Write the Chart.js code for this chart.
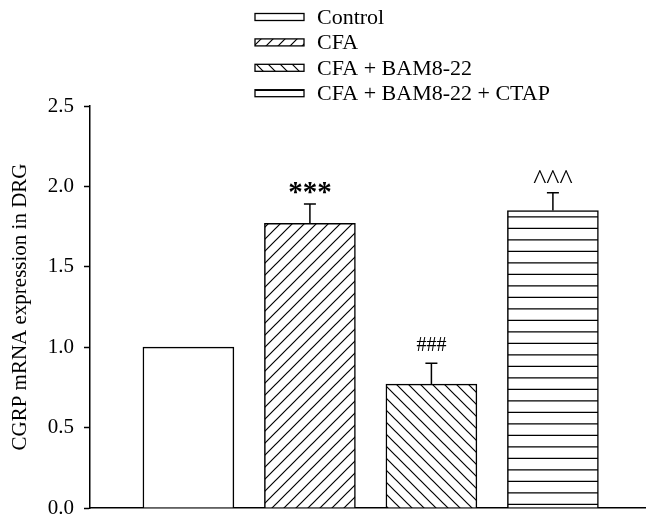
<!DOCTYPE html>
<html>
<head>
<meta charset="utf-8">
<script src="https://cdn.jsdelivr.net/npm/chart.js@4"></script>
<style>
  html, body { margin: 0; padding: 0; background: #fff; }
  #wrap { width: 647px; height: 517px; }
</style>
</head>
<body>
<div id="wrap"><canvas id="chart" width="647" height="517"></canvas></div>
<script>
// values
var categories = ['Control', 'CFA', 'CFA + BAM8-22', 'CFA + BAM8-22 + CTAP'];
var meanValues = [1.0, 1.77, 0.77, 1.85];
var semValues = [0, 0.12, 0.13, 0.11];
var sigMarks = ['', '***', '###', '^^^'];
var yTicks = [0.0, 0.5, 1.0, 1.5, 2.0, 2.5];
var yTitle = 'CGRP mRNA expression in DRG';

var FONT = '"Liberation Serif", "Times New Roman", serif';

// hatch patterns
function makePattern(kind) {
  var c = document.createElement('canvas');
  var ctx = c.getContext('2d');
  var s = kind === 'horiz' ? 23 : 12;
  c.width = s; c.height = s;
  ctx.fillStyle = '#fff';
  ctx.fillRect(0, 0, s, s);
  ctx.strokeStyle = '#000';
  ctx.lineWidth = 1.2;
  ctx.beginPath();
  if (kind === 'fwd') {
    ctx.moveTo(-1, s + 1); ctx.lineTo(s + 1, -1);
    ctx.moveTo(-1, 1); ctx.lineTo(1, -1);
    ctx.moveTo(s - 1, s + 1); ctx.lineTo(s + 1, s - 1);
  } else if (kind === 'back') {
    ctx.moveTo(-1, -1); ctx.lineTo(s + 1, s + 1);
    ctx.moveTo(s - 1, -1); ctx.lineTo(s + 1, 1);
    ctx.moveTo(-1, s - 1); ctx.lineTo(1, s + 1);
  } else if (kind === 'horiz') {
    ctx.moveTo(0, 9.8); ctx.lineTo(s, 9.8);
    ctx.moveTo(0, 21.3); ctx.lineTo(s, 21.3);
  }
  ctx.stroke();
  return ctx.createPattern(c, 'repeat');
}

var fills = ['#ffffff', makePattern('fwd'), makePattern('back'), makePattern('horiz')];

var barData = categories.map(function (c, i) {
  return { x: i + 1, y: meanValues[i] };
});

// error bars + significance marks
var errorPlugin = {
  id: 'errorBars',
  afterDatasetsDraw: function (chart) {
    var ctx = chart.ctx;
    var meta = chart.getDatasetMeta(0);
    var yScale = chart.scales.y;
    ctx.save();
    ctx.strokeStyle = '#000';
    ctx.lineWidth = 1.5;
    meta.data.forEach(function (bar, i) {
      var top = yScale.getPixelForValue(meanValues[i]);
      var capY = top;
      if (semValues[i] > 0) {
        capY = yScale.getPixelForValue(meanValues[i] + semValues[i]);
        ctx.beginPath();
        ctx.moveTo(bar.x, top);
        ctx.lineTo(bar.x, capY);
        ctx.moveTo(bar.x - 6, capY);
        ctx.lineTo(bar.x + 6, capY);
        ctx.stroke();
      }
      if (sigMarks[i]) {
        ctx.fillStyle = '#000';
        ctx.textAlign = 'center';
        ctx.textBaseline = 'alphabetic';
        if (sigMarks[i] === '***') {
          ctx.font = 'bold 29px ' + FONT;
          ctx.fillText(sigMarks[i], bar.x, capY - 3);
        } else if (sigMarks[i] === '^^^') {
          ctx.font = '28px ' + FONT;
          ctx.fillText(sigMarks[i], bar.x, capY - 5);
        } else {
          ctx.font = '20px ' + FONT;
          ctx.fillText(sigMarks[i], bar.x, capY - 12);
        }
      }
    });
    ctx.restore();
  }
};

// stacked legend at top
var legendPlugin = {
  id: 'stackLegend',
  afterDraw: function (chart) {
    var ctx = chart.ctx;
    ctx.save();
    categories.forEach(function (name, i) {
      var cy = 17 + i * 25.4;
      ctx.fillStyle = fills[i];
      ctx.fillRect(255, cy - 3.5, 49, 7);
      ctx.strokeStyle = '#000';
      ctx.lineWidth = 1.3;
      ctx.strokeRect(255, cy - 3.5, 49, 7);
      ctx.fillStyle = '#000';
      ctx.font = '22px ' + FONT;
      ctx.textAlign = 'left';
      ctx.textBaseline = 'middle';
      ctx.fillText(name, 317, cy + 1);
    });
    ctx.restore();
  }
};

var chart = new Chart(document.getElementById('chart'), {
  type: 'bar',
  data: {
    datasets: [{
      data: barData,
      backgroundColor: fills,
      borderColor: '#000',
      borderWidth: 1.5,
      barThickness: 91
    }]
  },
  options: {
    responsive: false,
    animation: false,
    layout: { padding: { top: 106, right: 2, bottom: 9, left: 0 } },
    plugins: {
      legend: { display: false },
      tooltip: { enabled: false }
    },
    scales: {
      x: {
        type: 'linear',
        offset: false,
        bounds: 'ticks',
        min: 0.19,
        max: 4.758,
        ticks: { display: false },
        grid: { display: true, offset: false, drawOnChartArea: false, drawTicks: false },
        border: { display: true, color: '#000', width: 1.5 },
        afterFit: function (scale) {
          scale.height = 0;
          scale.paddingLeft = 0;
          scale.paddingRight = 0;
        }
      },
      y: {
        min: 0,
        max: 2.5,
        afterBuildTicks: function (scale) {
          scale.ticks = yTicks.map(function (v) { return { value: v }; });
        },
        ticks: {
          color: '#000',
          padding: 10,
          font: { family: FONT, size: 21 },
          callback: function (v) { return Number(v).toFixed(1); }
        },
        grid: {
          drawOnChartArea: false,
          drawTicks: true,
          tickLength: 6,
          tickColor: '#000',
          tickWidth: 1.5
        },
        border: { display: true, color: '#000', width: 1.5 },
        title: {
          display: true,
          text: yTitle,
          color: '#000',
          font: { family: FONT, size: 21 },
          padding: { top: 8, bottom: 0 }
        },
        afterFit: function (scale) {
          scale.width = 90;
          scale.paddingTop = 0;
          scale.paddingBottom = 0;
        }
      }
    }
  },
  plugins: [errorPlugin, legendPlugin]
});
</script>
</body>
</html>
